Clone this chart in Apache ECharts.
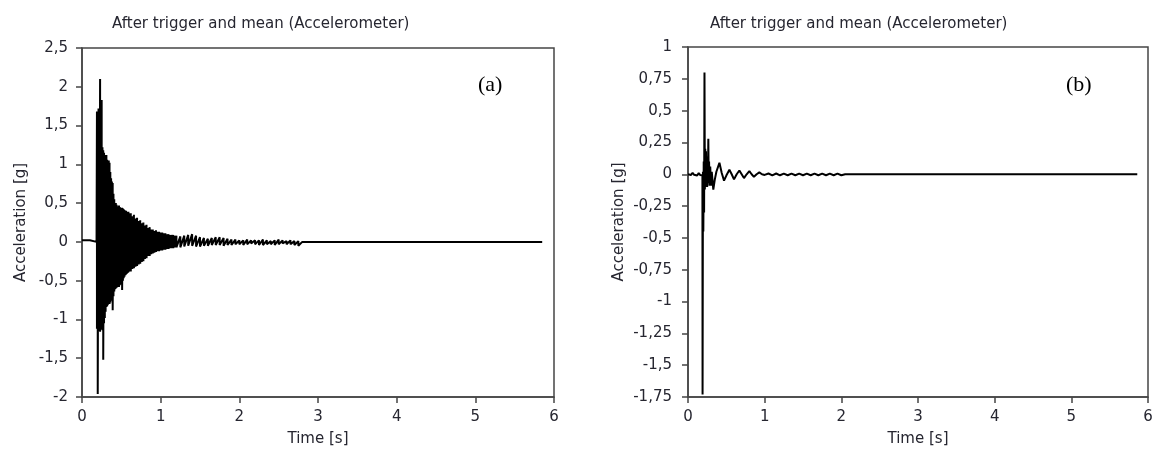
<!DOCTYPE html>
<html><head><meta charset="utf-8">
<script src="https://cdn.jsdelivr.net/npm/echarts@6/dist/echarts.min.js"></script>
<style>html,body{margin:0;padding:0;background:#fff}#c{width:1154px;height:456px}</style>
</head><body><div id="c"></div>
<script>
// ---------- data ----------
const titleText = 'After trigger and mean (Accelerometer)';
const xName = 'Time [s]';
const yName = 'Acceleration [g]';
const panelLabels = ['(a)', '(b)'];
const xTickValues = [0, 1, 2, 3, 4, 5, 6];
const xTickLabels = ['0', '1', '2', '3', '4', '5', '6'];
const yTickValuesA = [-2, -1.5, -1, -0.5, 0, 0.5, 1, 1.5, 2, 2.5];
const yTickLabelsA = ['-2', '-1,5', '-1', '-0,5', '0', '0,5', '1', '1,5', '2', '2,5'];
const yTickValuesB = [-1.75, -1.5, -1.25, -1, -0.75, -0.5, -0.25, 0, 0.25, 0.5, 0.75, 1];
const yTickLabelsB = ['-1,75', '-1,5', '-1,25', '-1', '-0,75', '-0,5', '-0,25', '0', '0,25', '0,5', '0,75', '1'];

// (a) pre-trigger, burst (upper / lower peaks), tail
const preTA = [0, 0.10, 0.12, 0.185];
const preVA = [0.02, 0.02, 0.0, 0.0];
const burstTA = [
  0.19,0.20,0.21,0.22,0.23,0.24,0.25,0.26,0.27,0.28,0.29,0.30,0.31,0.32,0.33,0.34,0.35,0.36,0.37,0.38,
  0.39,0.40,0.41,0.42,0.43,0.44,0.45,0.46,0.47,0.48,0.49,0.50,0.51,0.52,0.53,0.54,0.55,0.56,0.57,0.58,
  0.59,0.60,
  0.62,0.64,0.66,0.68,0.70,0.72,0.74,0.76,0.78,0.80,0.82,0.84,0.86,0.88,0.90,0.92,0.94,0.96,0.98,1.00,
  1.02,1.04,1.06,1.08,1.10,1.12,1.14,1.16,1.18,1.20,
  1.25,1.30,1.35,1.40,1.45,1.50,1.55,1.60,1.65,1.70,1.75,1.80,1.85,1.90,1.95,2.00,2.05,2.10,2.15,2.20,
  2.25,2.30,2.35,2.40,2.45,2.50,2.55,2.60,2.65,2.70,2.75,2.80];
const burstHiA = [
  1.68,1.66,1.72,1.70,2.10,1.80,1.83,1.22,1.18,1.15,1.12,1.10,1.12,1.06,1.04,1.05,1.02,0.90,0.82,0.78,
  0.76,0.62,0.55,0.50,0.50,0.48,0.46,0.45,0.47,0.45,0.44,0.43,0.44,0.43,0.42,0.41,0.40,0.40,0.39,0.38,
  0.39,0.37,
  0.37,0.33,0.35,0.30,0.31,0.27,0.28,0.24,0.25,0.21,0.22,0.18,0.19,0.16,0.16,0.14,0.15,0.13,0.13,0.12,
  0.12,0.11,0.11,0.10,0.10,0.09,0.09,0.09,0.08,0.08,
  0.07,0.08,0.09,0.10,0.08,0.06,0.05,0.04,0.05,0.06,0.06,0.05,0.04,0.03,0.03,0.02,0.02,0.03,0.02,0.02,
  0.02,0.03,0.02,0.01,0.02,0.03,0.02,0.01,0.02,0.01,0.01,0.00];
const burstLoA = [
  -1.12,-1.96,-1.15,-1.14,-1.16,-1.13,-1.10,-1.14,-1.52,-1.05,-0.98,-0.90,-0.84,-0.83,-0.81,-0.80,-0.80,-0.78,-0.76,-0.74,
  -0.88,-0.70,-0.64,-0.61,-0.60,-0.59,-0.58,-0.57,-0.58,-0.56,-0.55,-0.52,-0.62,-0.50,-0.47,-0.45,-0.43,-0.42,-0.41,-0.40,
  -0.39,-0.38,
  -0.38,-0.35,-0.34,-0.32,-0.31,-0.29,-0.28,-0.26,-0.25,-0.22,-0.21,-0.18,-0.18,-0.16,-0.15,-0.14,-0.13,-0.12,-0.12,-0.11,
  -0.11,-0.10,-0.10,-0.09,-0.09,-0.08,-0.08,-0.08,-0.07,-0.07,
  -0.07,-0.06,-0.05,-0.05,-0.06,-0.06,-0.05,-0.05,-0.04,-0.04,-0.04,-0.05,-0.04,-0.04,-0.03,-0.03,-0.04,-0.03,-0.02,-0.03,
  -0.04,-0.04,-0.03,-0.03,-0.04,-0.03,-0.02,-0.03,-0.03,-0.04,-0.05,-0.02];
const postTA = [2.85, 5.85];
const postVA = [0.0, 0.0];

// (b) signal samples
const sigTB = [
  0, 0.02, 0.04, 0.06, 0.08, 0.10, 0.12, 0.14, 0.16, 0.18,
  0.188, 0.19, 0.195, 0.20, 0.205, 0.21, 0.215, 0.22, 0.225, 0.23,
  0.235, 0.24, 0.245, 0.25, 0.255, 0.26, 0.265, 0.27, 0.275, 0.28,
  0.29, 0.30, 0.31, 0.33, 0.35, 0.37, 0.41, 0.44, 0.47, 0.50,
  0.54, 0.57, 0.60, 0.635, 0.67, 0.70, 0.73, 0.765, 0.80, 0.83,
  0.86, 0.895, 0.93, 0.965, 1.00,
  1.05, 1.10, 1.15, 1.20, 1.25, 1.30, 1.35, 1.40, 1.45, 1.50,
  1.55, 1.60, 1.65, 1.70, 1.75, 1.80, 1.85, 1.90, 1.95, 2.00, 2.05, 5.86];
const sigVB = [
  0.0, 0.01, -0.005, 0.012, -0.004, 0.008, -0.01, 0.01, -0.006, 0.0,
  -0.01, -1.73, 0.02, -0.45, 0.10, -0.30, 0.80, -0.12, 0.20, -0.10,
  0.18, -0.06, 0.14, -0.10, 0.12, -0.07, 0.28, -0.05, 0.10, -0.09,
  0.06, -0.09, 0.02, -0.12, -0.04, 0.02, 0.09, 0.01, -0.05, -0.01,
  0.035, 0.0, -0.04, 0.0, 0.03, 0.0, -0.03, 0.0, 0.025, 0.0,
  -0.02, 0.0, 0.015, 0.0, -0.005,
  0.006, -0.008, 0.006, -0.008, 0.005, -0.008, 0.005, -0.008, 0.005, -0.008,
  0.005, -0.008, 0.005, -0.008, 0.005, -0.008, 0.005, -0.008, 0.005, -0.008, 0.0, 0.0];

// ---------- build series data ----------
const dataA = [];
preTA.forEach((t, i) => dataA.push([t, preVA[i]]));
burstTA.forEach((t, i) => { dataA.push([t, burstHiA[i]]); dataA.push([t, burstLoA[i]]); });
postTA.forEach((t, i) => dataA.push([t, postVA[i]]));
const dataB = sigTB.map((t, i) => [t, sigVB[i]]);

// ---------- chart ----------
const FONT = "'DejaVu Sans', sans-serif";
const FRAME = '#454545';
const TXT = '#262630';

function lookup(vals, labels) {
  return v => { const i = vals.findIndex(x => Math.abs(x - v) < 1e-9); return i >= 0 ? labels[i] : ''; };
}
function mkX(gi) {
  return {
    type: 'value', gridIndex: gi, min: 0, max: 6, interval: 1,
    name: xName, nameLocation: 'middle', nameGap: 35,
    nameTextStyle: { color: TXT, fontSize: 15, fontFamily: FONT },
    axisLine: { onZero: false, lineStyle: { color: FRAME, width: 1.5 } },
    axisTick: { show: true, inside: false, length: 6, lineStyle: { color: FRAME, width: 1.5 } },
    axisLabel: { margin: 13, color: TXT, fontSize: 15, fontFamily: FONT, formatter: lookup(xTickValues, xTickLabels) },
    splitLine: { show: false }
  };
}
function mkY(gi, min, max, step, vals, labels, gap, margin) {
  return {
    type: 'value', gridIndex: gi, min: min, max: max, interval: step,
    name: yName, nameLocation: 'middle', nameGap: gap, nameRotate: 90,
    nameTextStyle: { color: TXT, fontSize: 15, fontFamily: FONT },
    axisLine: { show: true, onZero: false, lineStyle: { color: FRAME, width: 1.5 } },
    axisTick: { show: true, inside: false, length: 6, lineStyle: { color: FRAME, width: 1.5 } },
    axisLabel: { margin: margin, color: TXT, fontSize: 15, fontFamily: FONT, formatter: lookup(vals, labels) },
    splitLine: { show: false }
  };
}

const chart = echarts.init(document.getElementById('c'), null, { renderer: 'canvas' });
chart.setOption({
  animation: false,
  backgroundColor: '#ffffff',
  title: [
    { text: titleText, left: 107, top: 12, textStyle: { color: TXT, fontSize: 15, fontWeight: 'normal', fontFamily: FONT } },
    { text: titleText, left: 705, top: 12, textStyle: { color: TXT, fontSize: 15, fontWeight: 'normal', fontFamily: FONT } }
  ],
  grid: [
    { left: 82, right: 600, top: 48, bottom: 59, show: true, borderColor: FRAME, borderWidth: 1.5, backgroundColor: 'transparent', outerBoundsMode: 'none' },
    { left: 688, right: 6, top: 47, bottom: 59, show: true, borderColor: FRAME, borderWidth: 1.5, backgroundColor: 'transparent', outerBoundsMode: 'none' }
  ],
  xAxis: [mkX(0), mkX(1)],
  yAxis: [
    mkY(0, -2, 2.5, 0.5, yTickValuesA, yTickLabelsA, 53, 14),
    mkY(1, -1.75, 1, 0.25, yTickValuesB, yTickLabelsB, 61, 16)
  ],
  graphic: [
    { type: 'text', left: 478, top: 74, style: { text: panelLabels[0], fill: '#000', font: "22px 'Liberation Serif', serif" } },
    { type: 'text', left: 1066, top: 74, style: { text: panelLabels[1], fill: '#000', font: "22px 'Liberation Serif', serif" } }
  ],
  series: [
    { type: 'line', xAxisIndex: 0, yAxisIndex: 0, data: dataA, showSymbol: false, symbol: 'none',
      lineStyle: { color: '#000', width: 2 }, z: 3 },
    { type: 'line', xAxisIndex: 1, yAxisIndex: 1, data: dataB, showSymbol: false, symbol: 'none',
      lineStyle: { color: '#000', width: 2 }, z: 3 }
  ]
});
</script></body></html>
